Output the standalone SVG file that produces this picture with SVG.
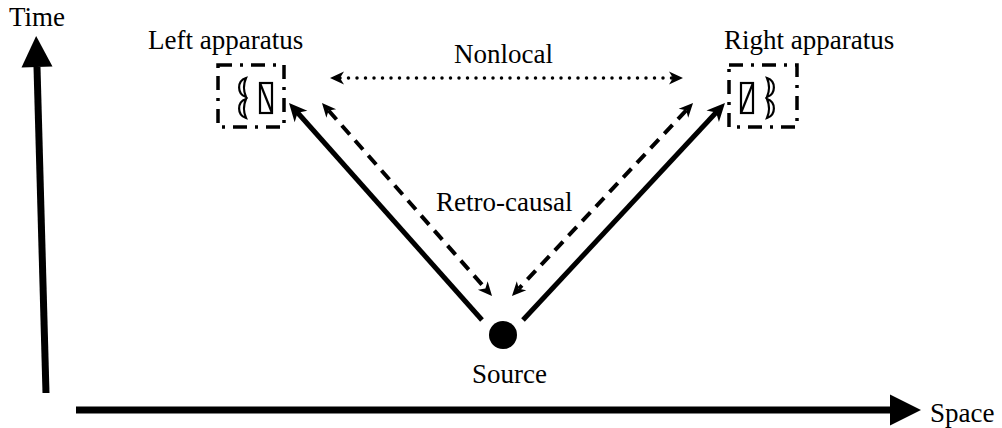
<svg xmlns="http://www.w3.org/2000/svg" width="1002" height="428" viewBox="0 0 1002 428">
<defs>
<style>
.lbl{font-family:'Liberation Serif','Times New Roman',serif;font-size:27px;fill:#000}
.box{fill:none;stroke:#000;stroke-width:3.5;stroke-dasharray:14 8 3 8}
.glyph{fill:none;stroke:#000;stroke-width:2.2}
.solid{fill:none;stroke:#000;stroke-width:5}
.dash{fill:none;stroke:#000;stroke-width:4;stroke-dasharray:12 8}
.dot{fill:none;stroke:#000;stroke-width:3.5;stroke-linecap:round;stroke-dasharray:0 8.5}
.axis{fill:none;stroke:#000;stroke-width:7}
</style>
<marker id="tri" markerUnits="userSpaceOnUse" viewBox="0 -16 32 32" refX="0" refY="0" markerWidth="32" markerHeight="32" orient="auto" overflow="visible">
<path d="M0,-15.5 L31,0 L0,15.5 Z" fill="#000"/>
</marker>
<marker id="big" markerUnits="userSpaceOnUse" viewBox="0 -9 19 18" refX="6" refY="0" markerWidth="19" markerHeight="18" orient="auto-start-reverse" overflow="visible">
<path d="M0,-8.5 L18,0 L0,8.5 L5,0 Z" fill="#000"/>
</marker>
<marker id="small" markerUnits="userSpaceOnUse" viewBox="0 -7 15 14" refX="4" refY="0" markerWidth="15" markerHeight="14" orient="auto-start-reverse" overflow="visible">
<path d="M0,-6.5 L14,0 L0,6.5 L4,0 Z" fill="#000"/>
</marker>
</defs>
<rect width="1002" height="428" fill="#fff"/>

<g id="axes">
<g id="time-axis">
<line class="axis" x1="46" y1="393" x2="37" y2="67" marker-end="url(#tri)"/>
<text class="lbl" x="9" y="26">Time</text>
</g>
<g id="space-axis">
<line class="axis" x1="76" y1="410" x2="890" y2="410" marker-end="url(#tri)"/>
<text class="lbl" x="930" y="422">Space</text>
</g>
</g>

<g id="connectors">
<line class="solid" x1="482" y1="320" x2="297" y2="112" marker-end="url(#big)"/>
<line class="solid" x1="523" y1="320" x2="716.8" y2="111.8" marker-end="url(#big)"/>
<line class="dash" x1="328.6" y1="110.5" x2="485.4" y2="288.5" marker-start="url(#small)" marker-end="url(#small)"/>
<line class="dash" x1="686.2" y1="110.3" x2="518.8" y2="288.7" marker-start="url(#small)" marker-end="url(#small)"/>
<line class="dot" x1="340" y1="78" x2="673" y2="78" marker-start="url(#small)" marker-end="url(#small)"/>
<text class="lbl" x="454" y="63">Nonlocal</text>
<text class="lbl" x="436" y="211">Retro-causal</text>
</g>

<g id="left-apparatus">
<rect class="box" x="218" y="65" width="66" height="62"/>
<path class="glyph" d="M246,78 A10,10 0 0 0 246,97 A24,24 0 0 1 246,78 Z"/>
<path class="glyph" d="M246,99 A10,10 0 0 0 246,118 A24,24 0 0 1 246,99 Z"/>
<rect class="glyph" x="260" y="83" width="12" height="30"/>
<line class="glyph" x1="260" y1="83" x2="272" y2="113"/>
<text class="lbl" x="148" y="49">Left apparatus</text>
</g>

<g id="right-apparatus">
<rect class="box" x="729" y="65" width="68" height="62"/>
<rect class="glyph" x="741" y="83" width="12" height="30"/>
<line class="glyph" x1="741" y1="113" x2="753" y2="83"/>
<path class="glyph" d="M767,78 A10,10 0 0 1 767,97 A24,24 0 0 0 767,78 Z"/>
<path class="glyph" d="M767,99 A10,10 0 0 1 767,118 A24,24 0 0 0 767,99 Z"/>
<text class="lbl" x="724" y="49">Right apparatus</text>
</g>

<g id="source">
<circle cx="503" cy="335" r="14" fill="#000"/>
<text class="lbl" x="472" y="383">Source</text>
</g>
</svg>
